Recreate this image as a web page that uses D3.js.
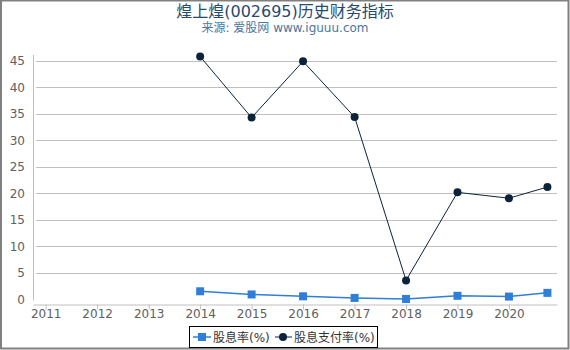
<!DOCTYPE html>
<html>
<head>
<meta charset="utf-8">
<script src="https://cdn.jsdelivr.net/npm/d3@7"></script>
<style>
  html, body { margin: 0; padding: 0; background: #fff; }
  svg { display: block; font-family: "DejaVu Sans", "Noto Sans CJK SC", sans-serif; }
</style>
</head>
<body>
<div id="chart"></div>
<script>
// data
const dates = ["2014-01-01", "2015-01-01", "2016-01-01", "2017-01-01", "2018-01-01", "2019-01-01", "2020-01-01", "2020-09-30"];
const yieldRate = [1.55, 0.95, 0.6, 0.3, 0.1, 0.7, 0.55, 1.25];   // 股息率(%)
const payoutRate = [45.8, 34.3, 44.9, 34.4, 3.6, 20.2, 19.1, 21.2]; // 股息支付率(%)
const yearTicks = [2011, 2012, 2013, 2014, 2015, 2016, 2017, 2018, 2019, 2020];
const yTicks = [0, 5, 10, 15, 20, 25, 30, 35, 40, 45];

const width = 570, height = 350;
const plot = { left: 33, right: 557, top: 55, bottom: 299.5 };

const svg = d3.select("#chart").append("svg")
  .attr("width", width)
  .attr("height", height);

// outer frame
svg.append("rect")
  .attr("x", 1).attr("y", 0.5)
  .attr("width", width - 2.5).attr("height", height - 2)
  .attr("fill", "none")
  .attr("stroke", "#808080")
  .attr("stroke-width", 2);

const parse = d3.timeParse("%Y-%m-%d");
const x = d3.scaleTime()
  .domain([parse("2010-10-03"), parse("2020-12-07")])
  .range([plot.left, plot.right]);

const y = d3.scaleLinear()
  .domain([0, 46.1])
  .range([plot.bottom, plot.top]);

// title
svg.append("text")
  .attr("x", width / 2).attr("y", 17)
  .attr("text-anchor", "middle")
  .attr("font-size", 16)
  .attr("fill", "#274b6d")
  .text("煌上煌(002695)历史财务指标");

svg.append("text")
  .attr("x", width / 2).attr("y", 32)
  .attr("text-anchor", "middle")
  .attr("font-size", 12)
  .attr("fill", "#4d759e")
  .text("来源: 爱股网 www.iguuu.com");

// grid lines
svg.append("g")
  .selectAll("line")
  .data(yTicks.filter(d => d > 0))
  .join("line")
  .attr("x1", 36).attr("x2", plot.right)
  .attr("y1", d => Math.round(y(d)) + 0.5)
  .attr("y2", d => Math.round(y(d)) + 0.5)
  .attr("stroke", "#c0c0c0")
  .attr("stroke-width", 1);

// y axis
svg.append("line")
  .attr("x1", plot.left + 0.5).attr("x2", plot.left + 0.5)
  .attr("y1", plot.top).attr("y2", plot.bottom + 1)
  .attr("stroke", "#c0c0c0");

svg.append("g")
  .selectAll("text")
  .data(yTicks)
  .join("text")
  .attr("x", 25)
  .attr("y", d => y(d) + 4.5)
  .attr("text-anchor", "end")
  .attr("font-size", 12)
  .attr("fill", "#606060")
  .text(d => d);

// x axis
const xAxis = svg.append("g")
  .attr("transform", "translate(0,304.5)")
  .call(d3.axisBottom(x)
    .tickValues(yearTicks.map(v => new Date(v, 0, 1)))
    .tickFormat(d3.timeFormat("%Y"))
    .tickSize(5)
    .tickSizeOuter(0));
xAxis.select(".domain").attr("stroke", "#c0c0c0");
xAxis.selectAll(".tick line").attr("stroke", "#c0c0c0");
xAxis.selectAll(".tick text")
  .attr("font-size", 12)
  .attr("font-family", "DejaVu Sans")
  .attr("fill", "#606060")
  .attr("y", 5)
  .attr("dy", "0.71em");

const pts1 = dates.map((d, i) => ({ date: parse(d), v: yieldRate[i] }));
const pts2 = dates.map((d, i) => ({ date: parse(d), v: payoutRate[i] }));

const line = d3.line().x(d => x(d.date)).y(d => y(d.v));

// 股息率 series
svg.append("path")
  .datum(pts1)
  .attr("d", line)
  .attr("fill", "none")
  .attr("stroke", "#2f7ed8")
  .attr("stroke-width", 1.5);

svg.append("g")
  .selectAll("rect")
  .data(pts1)
  .join("rect")
  .attr("x", d => x(d.date) - 4)
  .attr("y", d => y(d.v) - 4)
  .attr("width", 8).attr("height", 8)
  .attr("fill", "#2f7ed8");

// 股息支付率 series
svg.append("path")
  .datum(pts2)
  .attr("d", line)
  .attr("fill", "none")
  .attr("stroke", "#0d233a")
  .attr("stroke-width", 1);

svg.append("g")
  .selectAll("circle")
  .data(pts2)
  .join("circle")
  .attr("cx", d => x(d.date))
  .attr("cy", d => y(d.v))
  .attr("r", 4)
  .attr("fill", "#0d233a");

// legend
const legend = svg.append("g");
legend.append("rect")
  .attr("x", 189.5).attr("y", 326.5)
  .attr("width", 188).attr("height", 21)
  .attr("fill", "#fff")
  .attr("stroke", "#000")
  .attr("stroke-width", 1);

legend.append("line")
  .attr("x1", 193).attr("x2", 211).attr("y1", 337).attr("y2", 337)
  .attr("stroke", "#2f7ed8").attr("stroke-width", 1.5);
legend.append("rect")
  .attr("x", 198).attr("y", 333).attr("width", 8).attr("height", 8)
  .attr("fill", "#2f7ed8");
legend.append("text")
  .attr("x", 213).attr("y", 341.5)
  .attr("font-size", 12)
  .attr("fill", "#333")
  .text("股息率(%)");

legend.append("line")
  .attr("x1", 275).attr("x2", 292).attr("y1", 337).attr("y2", 337)
  .attr("stroke", "#0d233a").attr("stroke-width", 1);
legend.append("circle")
  .attr("cx", 283).attr("cy", 337).attr("r", 4)
  .attr("fill", "#0d233a");
legend.append("text")
  .attr("x", 294).attr("y", 341.5)
  .attr("font-size", 12)
  .attr("fill", "#333")
  .text("股息支付率(%)");
</script>
</body>
</html>
